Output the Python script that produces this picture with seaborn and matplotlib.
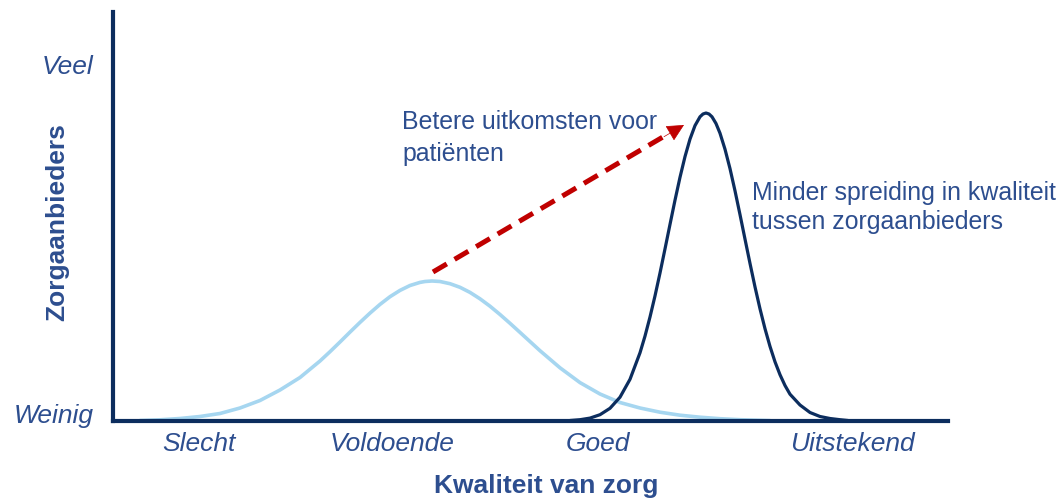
import matplotlib
matplotlib.use("Agg")
import matplotlib.pyplot as plt
import seaborn as sns
import pandas as pd

# curve samples (x along quality axis, y = number of providers)
huidig_x = [140, 160, 180, 200, 220, 240, 260, 280, 300, 320, 330, 340, 350, 360, 370, 380, 390,
            400, 410, 420, 425, 432, 440, 450, 460, 470, 480, 490, 500, 510, 520, 540, 560,
            580, 600, 620, 640, 660, 680, 700, 720, 740, 770]
huidig_y = [0.5, 1.2, 2.5, 4.5, 7.5, 13.0, 20.5, 31.0, 43.5, 60.0, 69.3, 79.0, 88.9, 98.6, 107.9, 116.6, 124.3,
            130.6, 135.5, 138.6, 139.5, 140.0, 139.5, 137.3, 133.7, 128.6, 122.2, 114.8, 106.5, 97.7, 88.6, 70.3, 53.2,
            38.4, 27.0, 18.5, 13.0, 8.8, 5.8, 3.8, 2.3, 1.3, 0.4]

doel_x = [570, 580, 590, 600, 610, 620, 630, 640, 645, 650, 655, 660, 665, 670, 675, 680, 685,
          690, 695, 700, 703, 706, 709, 712, 716, 720, 725, 730, 735, 740, 745, 750, 755,
          760, 765, 770, 775, 780, 785, 790, 800, 810, 820, 830, 840, 848]
doel_y = [0.5, 1.3, 2.9, 6.3, 12.7, 23.8, 41.7, 68.2, 84.9, 104.0, 125.1, 148.0, 172.1, 196.6, 220.8, 243.7, 264.4,
          281.9, 295.4, 304.2, 307.0, 308.0, 307.0, 304.2, 297.5, 287.8, 271.8, 252.4, 230.2, 206.4, 181.9, 157.6, 134.1,
          112.2, 92.3, 74.6, 59.2, 46.3, 35.5, 26.8, 16.0, 8.5, 4.5, 2.5, 1.3, 0.5]

x_ticks = [199, 392, 598, 852]
x_labels = ["Slecht", "Voldoende", "Goed", "Uitstekend"]
y_ticks = [8, 356]
y_labels = ["Weinig", "Veel"]

navy = "#0c2d5e"
lichtblauw = "#a6d6f0"
tekst = "#2d4e8f"
rood = "#c00000"

sns.set_style("white")
plt.rcParams["font.family"] = ["Liberation Sans", "DejaVu Sans"]

fig = plt.figure(figsize=(10.6, 5.0), dpi=100)
ax = fig.add_axes([113 / 1060, 79 / 500, 835 / 1060, 409 / 500])

df1 = pd.DataFrame({"x": huidig_x, "y": huidig_y})
df2 = pd.DataFrame({"x": doel_x, "y": doel_y})
sns.lineplot(data=df1, x="x", y="y", ax=ax, color=lichtblauw, linewidth=2.6, sort=False)
sns.lineplot(data=df2, x="x", y="y", ax=ax, color=navy, linewidth=2.3, sort=False)

ax.set_xlim(113, 948)
ax.set_ylim(0, 409)

for side in ["top", "right"]:
    ax.spines[side].set_visible(False)
for side in ["left", "bottom"]:
    ax.spines[side].set_color(navy)
    ax.spines[side].set_linewidth(3.0)

ax.set_xticks(x_ticks)
ax.set_xticklabels(x_labels, fontsize=19, style="italic", color=tekst)
ax.set_yticks(y_ticks)
ax.set_yticklabels(y_labels, fontsize=19, style="italic", color=tekst)
ax.tick_params(axis="x", length=0, pad=8)
ax.tick_params(axis="y", length=0, pad=14)

ax.set_xlabel("Kwaliteit van zorg", fontsize=19, fontweight="bold", color=tekst)
ax.xaxis.set_label_coords((546 - 113) / 835, -(474 - 421) / 409)
ax.set_ylabel("Zorgaanbieders", fontsize=19, fontweight="bold", color=tekst, va="center")
ax.yaxis.set_label_coords((57 - 113) / 835, (421 - 222) / 409)

# dashed arrow: line plus solid head
ax.plot([433, 668], [149, 287], color=rood, linewidth=3.6, linestyle=(0, (3.2, 1.8)),
        solid_capstyle="butt", dash_capstyle="butt")
ax.annotate("", xy=(684, 296), xytext=(664, 284.3),
            arrowprops=dict(arrowstyle="-|>,head_length=1.1,head_width=0.55",
                            color=rood, linewidth=0.5, shrinkA=0, shrinkB=0))

ax.text(402, 421 - 110, "Betere uitkomsten voor\npatiënten", fontsize=17.9, color=tekst,
        ha="left", va="top", linespacing=1.42)
ax.text(752, 421 - 181, "Minder spreiding in kwaliteit\ntussen zorgaanbieders", fontsize=17.9,
        color=tekst, ha="left", va="top", linespacing=1.27)

fig.savefig("out.png", dpi=100)
